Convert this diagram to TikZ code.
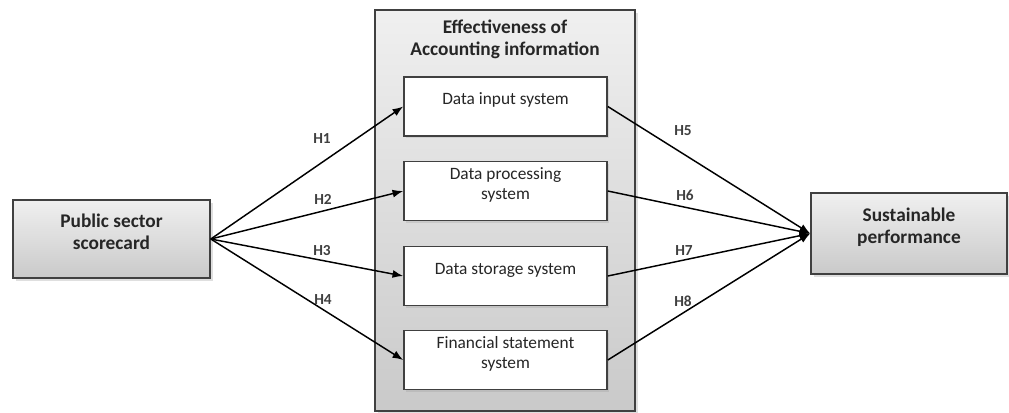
\documentclass[tikz,border=0pt]{standalone}
\usepackage{fontspec}
\setmainfont{Carlito}
\usetikzlibrary{arrows.meta,shadows}
\begin{document}
\begin{tikzpicture}[x=0.75pt,y=-0.75pt,
  outerbox/.style={draw=black!75,line width=1.2pt,top color=gray!12,bottom color=gray!42,
     drop shadow={opacity=0.25,shadow xshift=2pt,shadow yshift=-2pt}},
  innerbox/.style={draw=black!75,line width=1.2pt,fill=white,minimum width=152.25pt,minimum height=44.25pt,
     drop shadow={opacity=0.2,shadow xshift=1.5pt,shadow yshift=-1.5pt}},
  txt/.style={align=center,font=\fontsize{13}{14.5}\selectfont,text=black!85},
  ttl/.style={align=center,font=\fontsize{14.5}{16.5}\selectfont\bfseries,text=black!85},
  hl/.style={font=\fontsize{11.5}{13}\selectfont\bfseries,text=black!75},
  arr/.style={line width=1.1pt,-{Latex[length=8pt,width=6pt]}}]
\useasboundingbox (0,0) rectangle (1009,412);
% boxes
\node[outerbox,minimum width=195pt,minimum height=300.75pt] (big) at (505,210.5) {};
\node[outerbox,minimum width=147.75pt,minimum height=58.5pt] (left) at (111.5,239) {};
\node[outerbox,minimum width=147pt,minimum height=60.75pt] (right) at (909,233.5) {};
\node[innerbox] (b1) at (505.5,106.5) {};
\node[innerbox] (b2) at (505.5,191) {};
\node[innerbox] (b3) at (505.5,276) {};
\node[innerbox] (b4) at (505.5,360) {};
% texts
\node[ttl] (tbig) at (505,39) {Effectiveness of\\Accounting information};
\node[ttl] (tleft) at (111.5,232) {Public sector\\scorecard};
\node[ttl] (tright) at (909,227) {Sustainable\\performance};
\node[txt] (t1) at (505.5,100) {Data input system};
\node[txt] (t2) at (505.5,185) {Data processing\\system};
\node[txt] (t3) at (505.5,270) {Data storage system};
\node[txt] (t4) at (505.5,354) {Financial statement\\system};
% connectors
\draw[arr] (left.east) -- (b1.west);
\draw[arr] (left.east) -- (b2.west);
\draw[arr] (left.east) -- (b3.west);
\draw[arr] (left.east) -- (b4.west);
\draw[arr] (b1.east) -- (right.west);
\draw[arr] (b2.east) -- (right.west);
\draw[arr] (b3.east) -- (right.west);
\draw[arr] (b4.east) -- (right.west);
% labels
\node[hl] (h1) at (322,139) {H1};
\node[hl] (h2) at (323,199) {H2};
\node[hl] (h3) at (322,251) {H3};
\node[hl] (h4) at (323,300) {H4};
\node[hl] (h5) at (683,131) {H5};
\node[hl] (h6) at (685,195) {H6};
\node[hl] (h7) at (684,251) {H7};
\node[hl] (h8) at (683,301) {H8};
\end{tikzpicture}
\end{document}
